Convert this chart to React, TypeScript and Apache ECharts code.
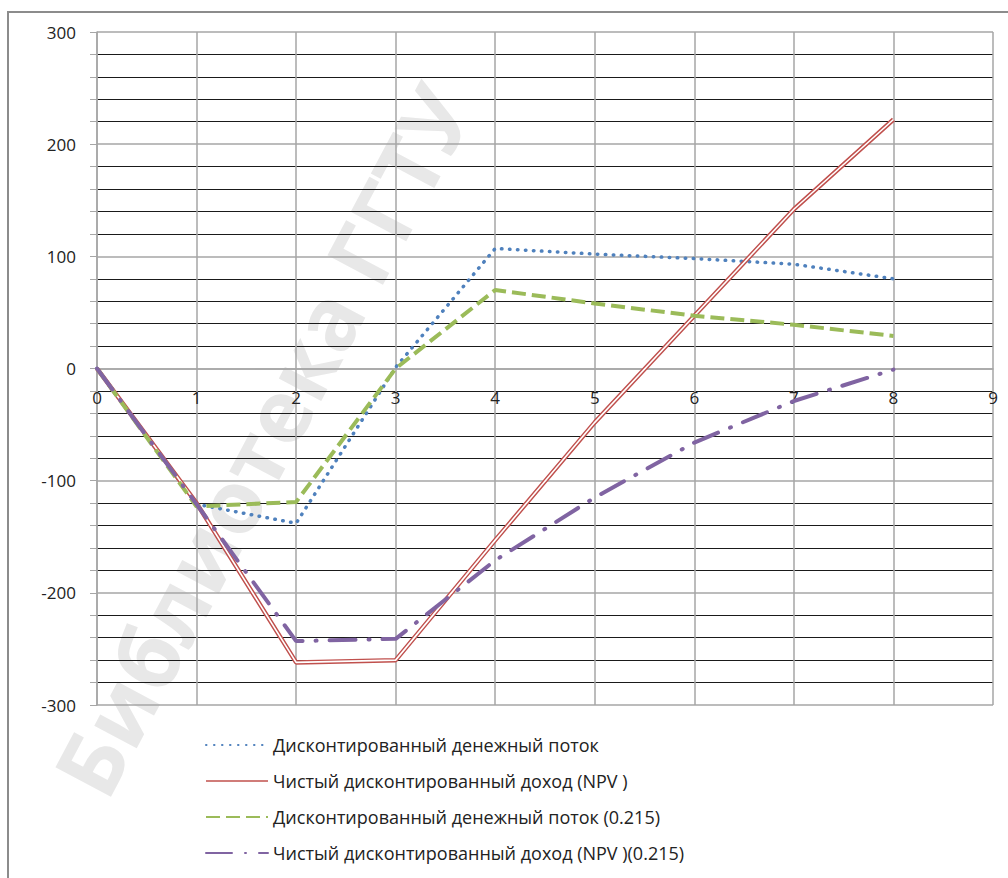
import React, { useEffect, useRef } from "react";
import * as echarts from "echarts";

const xValues = [0, 1, 2, 3, 4, 5, 6, 7, 8];
const seriesNames = [
  "Дисконтированный денежный поток",
  "Чистый дисконтированный доход (NPV )",
  "Дисконтированный денежный поток (0.215)",
  "Чистый дисконтированный доход (NPV )(0.215)",
];
const dcf = [0, -121, -138, 1, 107, 102, 98, 93, 80];
const npv = [0, -120, -262, -260, -153, -48, 47, 142, 222];
const dcf215 = [0, -123, -119, 0, 70, 58, 47, 39, 29];
const npv215 = [0, -121, -243, -241, -171, -115, -66, -29, -1];
const watermark = "Библиотека ГГТУ";

const FONT = "'Open Sans', 'Noto Sans', sans-serif";

function pts(vals: number[]) {
  return vals.map((v, i) => [xValues[i], v]);
}

export default function App() {
  const ref = useRef<HTMLDivElement>(null);
  useEffect(() => {
    if (!ref.current) return;
    const chart = echarts.init(ref.current, undefined, { renderer: "svg" });
    const gridTop = 32;
    const gridBottom = 173;
    const plotH = 878 - gridTop - gridBottom;
    const zeroOffset = -plotH / 2; // x axis crosses at y = 0 (middle of -300..300)
    chart.setOption({
      animation: false,
      backgroundColor: "#ffffff",
      textStyle: { fontFamily: FONT },
      graphic: [
        {
          type: "rect",
          z: -20,
          silent: true,
          shape: { x: 8, y: 12, width: 1010, height: 880 },
          style: { fill: "none", stroke: "#8c8c8c", lineWidth: 2 },
        },
        {
          type: "text",
          z: -10,
          silent: true,
          x: 262,
          y: 440,
          rotation: (62 * Math.PI) / 180,
          style: {
            text: watermark,
            fill: "#e8e8e8",
            font: "bold 88px 'Open Sans', sans-serif",
            align: "center",
            verticalAlign: "middle",
          },
        },
      ],
      grid: { left: 97, right: 15, top: gridTop, bottom: gridBottom, containLabel: false },
      legend: {
        orient: "vertical",
        left: 200,
        top: 731,
        itemWidth: 62,
        itemHeight: 20,
        itemGap: 18,
        itemStyle: { opacity: 0 },
        textStyle: { fontSize: 18, color: "#222", fontFamily: FONT },
        data: [
          { name: seriesNames[0], itemStyle: { opacity: 0 } },
          { name: seriesNames[1], lineStyle: { width: 1.6 }, itemStyle: { opacity: 0 } },
          { name: seriesNames[2], itemStyle: { opacity: 0 } },
          { name: seriesNames[3], itemStyle: { opacity: 0 } },
        ],
      },
      xAxis: {
        type: "value",
        min: 0,
        max: 9,
        interval: 1,
        position: "bottom",
        offset: zeroOffset,
        axisLine: { show: true, onZero: false, lineStyle: { color: "#a6a6a6", width: 1.5 } },
        axisTick: { show: false },
        axisLabel: { color: "#222", fontSize: 17, margin: 20, fontFamily: FONT },
        splitLine: { show: true, lineStyle: { color: "#a6a6a6", width: 1.5 } },
      },
      yAxis: {
        type: "value",
        min: -300,
        max: 300,
        interval: 100,
        axisLine: { show: true, onZero: false, lineStyle: { color: "#a6a6a6", width: 1.5 } },
        axisTick: { show: true, length: 7, lineStyle: { color: "#a6a6a6" } },
        minorTick: { show: true, splitNumber: 5, length: 7, lineStyle: { color: "#a6a6a6" } },
        axisLabel: { color: "#222", fontSize: 17, margin: 21, fontFamily: FONT },
        splitLine: { show: true, lineStyle: { color: "#a6a6a6", width: 1.5 } },
        minorSplitLine: { show: true, lineStyle: { color: "#1a1a1a", width: 1 } },
      },
      series: [
        {
          name: seriesNames[0],
          type: "line",
          data: pts(dcf),
          symbol: "none",
          lineStyle: { color: "#4f81bd", width: 3.5, type: [0.5, 7.5], cap: "round" },
          itemStyle: { color: "#4f81bd" },
          z: 3,
        },
        {
          name: seriesNames[1],
          type: "line",
          data: pts(npv),
          symbol: "none",
          lineStyle: { color: "#c0504d", width: 4.5 },
          itemStyle: { color: "#c0504d" },
          z: 4,
        },
        {
          name: "npv-inner",
          type: "line",
          data: pts(npv),
          symbol: "none",
          silent: true,
          lineStyle: { color: "#ffffff", width: 1.6 },
          itemStyle: { color: "#ffffff" },
          z: 5,
        },
        {
          name: seriesNames[2],
          type: "line",
          data: pts(dcf215),
          symbol: "none",
          lineStyle: { color: "#9bbb59", width: 4, type: [14, 6] },
          itemStyle: { color: "#9bbb59" },
          z: 6,
        },
        {
          name: seriesNames[3],
          type: "line",
          data: pts(npv215),
          symbol: "none",
          lineStyle: { color: "#8064a2", width: 4, type: [26, 13, 1, 13], cap: "round" },
          itemStyle: { color: "#8064a2" },
          z: 7,
        },
      ],
    });
    return () => chart.dispose();
  }, []);
  return (
    <div
      ref={ref}
      style={{ position: "fixed", left: 0, top: 0, width: 1008, height: 878 }}
    />
  );
}
